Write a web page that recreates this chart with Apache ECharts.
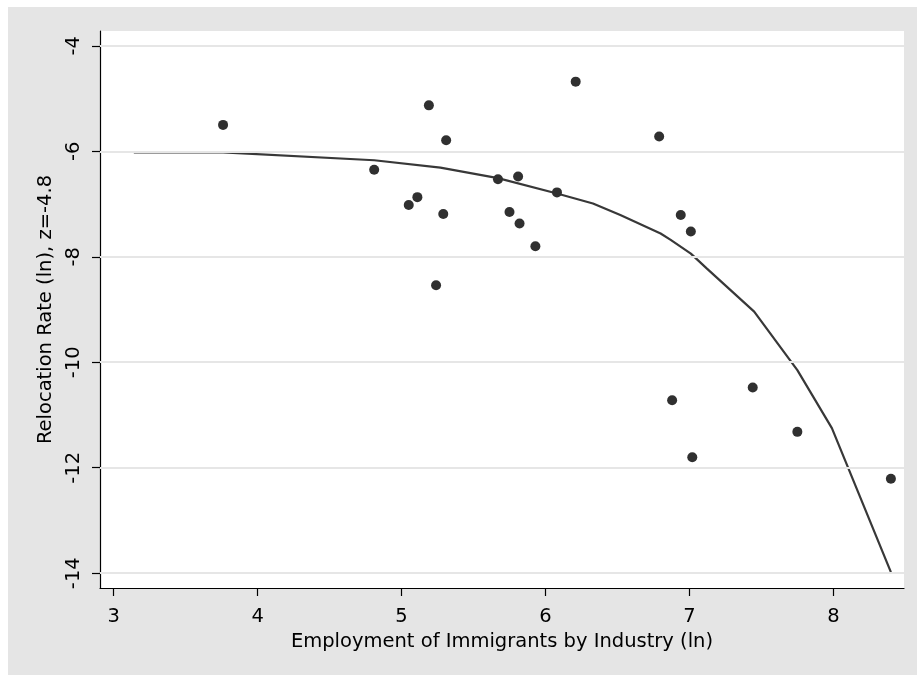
<!DOCTYPE html>
<html>
<head>
<meta charset="utf-8">
<script src="https://cdn.jsdelivr.net/npm/echarts@6/dist/echarts.min.js"></script>
<style>
  html, body { margin: 0; padding: 0; background: #fff; }
  #chart { width: 917px; height: 675px; }
</style>
</head>
<body>
<div id="chart"></div>
<script>
// industries: employment of immigrants (ln) vs relocation rate (ln)
const empImmigrants = [3.76, 4.81, 5.19, 5.31, 5.11, 5.05, 5.29, 5.24, 5.67, 5.81,
  5.75, 5.82, 5.93, 6.08, 6.21, 6.79, 6.94, 7.01, 6.88, 7.44, 7.75, 7.02, 8.40];
const relocRate = [-5.50, -6.35, -5.13, -5.79, -6.87, -7.02, -7.19, -8.54, -6.53, -6.48,
  -7.15, -7.37, -7.80, -6.78, -4.68, -5.72, -7.21, -7.52, -10.72, -10.48, -11.32, -11.80, -12.21];

// fitted curve
const fitX = [3.14, 3.76, 4.81, 5.27, 5.67, 6.08, 6.33, 6.52, 6.80, 6.87, 7.01, 7.12, 7.45, 7.75, 7.99, 8.40];
const fitY = [-6.02, -6.02, -6.17, -6.31, -6.51, -6.80, -6.99, -7.21, -7.56, -7.68, -7.94, -8.22, -9.04, -10.15, -11.25, -13.98];

const xTicks = [3, 4, 5, 6, 7, 8];
const yTicks = [-4, -6, -8, -10, -12, -14];

const font = "'DejaVu Sans', sans-serif";

const chart = echarts.init(document.getElementById("chart"));

const option = {
  backgroundColor: "#fff",
  animation: false,
  graphic: [
    {
      type: "rect",
      z: -100,
      silent: true,
      shape: { x: 8, y: 7, width: 909, height: 668 },
      style: { fill: "#e5e5e5" },
    },
  ],
  grid: {
    left: 100,
    top: 31,
    right: 13,
    bottom: 87,
    show: true,
    backgroundColor: "#fff",
    borderWidth: 0,
  },
  xAxis: {
    type: "value",
    min: 2.905,
    max: 8.491,
    name: "Employment of Immigrants by Industry (ln)",
    nameLocation: "middle",
    nameGap: 41,
    nameTextStyle: { fontFamily: font, fontSize: 19.5, color: "#000" },
    axisLine: { show: true, onZero: false, lineStyle: { color: "#000", width: 1.2 } },
    axisTick: { show: true, length: 8, customValues: xTicks, lineStyle: { color: "#000", width: 1.2 } },
    axisLabel: { customValues: xTicks, margin: 19, fontFamily: font, fontSize: 19.5, color: "#000" },
    splitLine: { show: false },
  },
  yAxis: {
    type: "value",
    min: -14.28,
    max: -3.72,
    name: "Relocation Rate (ln), z=-4.8",
    nameLocation: "middle",
    nameGap: 43,
    nameRotate: 90,
    nameTextStyle: { fontFamily: font, fontSize: 19.5, color: "#000" },
    axisLine: { show: true, onZero: false, lineStyle: { color: "#000", width: 1.2 } },
    axisTick: { show: true, length: 8, customValues: yTicks, lineStyle: { color: "#000", width: 1.2 } },
    axisLabel: { customValues: yTicks, rotate: 90, margin: 16, fontFamily: font, fontSize: 19.5, color: "#000" },
    splitLine: { show: false },
  },
  series: [
    {
      // horizontal grid lines at the y ticks
      type: "line",
      data: [],
      z: 1,
      silent: true,
      markLine: {
        silent: true,
        symbol: "none",
        label: { show: false },
        lineStyle: { color: "#e6e6e6", width: 2, type: "solid" },
        data: yTicks.map((v) => ({ yAxis: v })),
      },
    },
    {
      name: "fit",
      type: "line",
      z: 3,
      data: fitX.map((x, i) => [x, fitY[i]]),
      showSymbol: false,
      lineStyle: { color: "#383838", width: 2.2 },
    },
    {
      name: "industries",
      type: "scatter",
      z: 4,
      data: empImmigrants.map((x, i) => [x, relocRate[i]]),
      symbol: "circle",
      symbolSize: 10,
      itemStyle: { color: "#303030", opacity: 1 },
    },
  ],
};

chart.setOption(option);
</script>
</body>
</html>
